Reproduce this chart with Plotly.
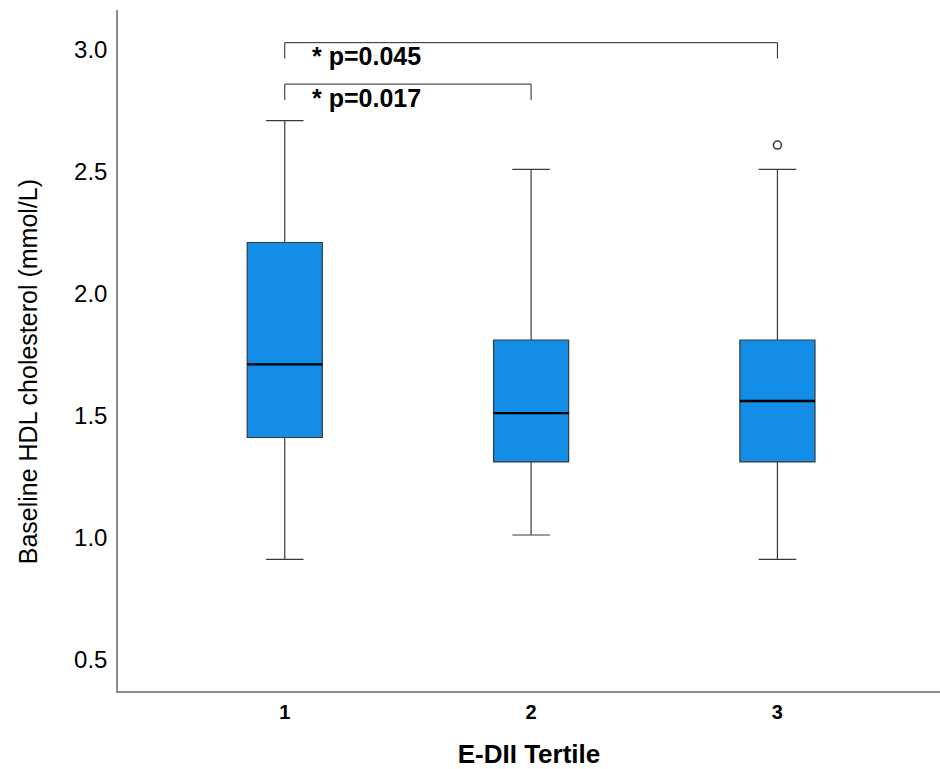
import plotly.graph_objects as go

# Data
categories = [1, 2, 3]
tick_labels = ["1", "2", "3"]
q1 = [1.41, 1.31, 1.31]
median = [1.71, 1.51, 1.56]
q3 = [2.21, 1.81, 1.81]
lower_fence = [0.91, 1.01, 0.91]
upper_fence = [2.71, 2.51, 2.51]
outlier_x = [3]
outlier_y = [2.61]

comp_start = [1, 1]
comp_end = [3, 2]
comp_y = [3.03, 2.86]
comp_text = ["* p=0.045", "* p=0.017"]

BOX_W = 0.305
FONT = "Liberation Sans, Arial, sans-serif"
EDGE = "#3a3a3a"

fig = go.Figure()
fig.add_trace(go.Box(
    x=categories, q1=q1, median=median, q3=q3,
    lowerfence=lower_fence, upperfence=upper_fence,
    width=BOX_W, whiskerwidth=0.5,
    fillcolor="#138de6", line=dict(color=EDGE, width=1.2),
    boxpoints=False, showlegend=False, hoverinfo="skip",
))

# thicker black median lines
for xi, m in zip(categories, median):
    fig.add_trace(go.Scatter(
        x=[xi - BOX_W / 2, xi + BOX_W / 2], y=[m, m], mode="lines",
        line=dict(color="black", width=2.4), showlegend=False, hoverinfo="skip",
    ))

fig.add_trace(go.Scatter(
    x=outlier_x, y=outlier_y, mode="markers",
    marker=dict(symbol="circle-open", size=8, color=EDGE, line=dict(width=1.6)),
    showlegend=False, hoverinfo="skip",
))

DROP = 0.065
for a, b, yv, t in zip(comp_start, comp_end, comp_y, comp_text):
    fig.add_trace(go.Scatter(
        x=[a, a, b, b], y=[yv - DROP, yv, yv, yv - DROP], mode="lines",
        line=dict(color="#222222", width=1), showlegend=False, hoverinfo="skip",
    ))
    fig.add_annotation(
        x=a + 0.104, y=yv - 0.055, text="<b>" + t + "</b>", showarrow=False,
        xanchor="left", yanchor="middle",
        font=dict(family=FONT, size=25, color="black"),
    )

# y-axis title as annotation (placed slightly below plot centre as in reference)
fig.add_annotation(
    text="Baseline HDL cholesterol (mmol/L)", textangle=-90,
    xref="paper", yref="paper", x=0, y=0.468, xanchor="center", yanchor="middle",
    xshift=-90, showarrow=False, font=dict(family=FONT, size=25, color="black"),
)

fig.update_layout(
    width=940, height=769,
    margin=dict(l=118, r=0, t=10, b=78),
    plot_bgcolor="white", paper_bgcolor="white",
    font=dict(family=FONT, color="black"),
    xaxis=dict(
        range=[0.323, 3.66], tickmode="array", tickvals=categories, ticktext=tick_labels,
        showgrid=False, zeroline=False, showline=True, linecolor="#8c8c8c", linewidth=1.5,
        ticks="", tickfont=dict(family=FONT, size=20, color="black", weight="bold"),
        ticklabelstandoff=2,
        title=dict(text="<b>E-DII Tertile</b>", font=dict(family=FONT, size=26), standoff=26),
    ),
    yaxis=dict(
        range=[0.37, 3.164], tickmode="array", tickvals=[0.5, 1.0, 1.5, 2.0, 2.5, 3.0],
        ticktext=["0.5", "1.0", "1.5", "2.0", "2.5", "3.0"],
        showgrid=False, zeroline=False, showline=True, linecolor="#8c8c8c", linewidth=1.5,
        ticks="", tickfont=dict(family=FONT, size=24, color="black"),
        ticklabelstandoff=4,
    ),
)

fig.write_html("out.html")
